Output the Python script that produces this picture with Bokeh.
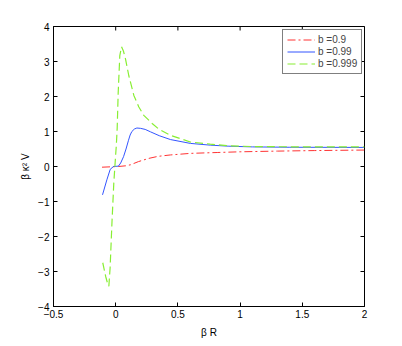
import math
from bokeh.plotting import figure
from bokeh.models import FixedTicker, Legend, LegendItem, Range1d
from bokeh.embed import file_html
from bokeh.resources import INLINE

# b = 0.9
x_red = [-0.11, 0.022, 0.08, 0.12, 0.183, 0.264, 0.34, 0.44, 0.60, 0.816, 1.0, 1.3, 1.6, 2.0]
y_red = [-0.02, 0.0, 0.02, 0.05, 0.14, 0.23, 0.29, 0.33, 0.375, 0.40, 0.42, 0.44, 0.455, 0.47]

# b = 0.99
x_blue = [-0.106, -0.071, -0.044, -0.018, 0.022, 0.04, 0.063, 0.083, 0.103, 0.116, 0.13, 0.15,
          0.17, 0.2, 0.237, 0.28, 0.35, 0.44, 0.60, 0.76, 0.91, 1.1, 1.4, 2.0]
y_blue = [-0.81, -0.38, -0.08, 0.0, 0.01, 0.1, 0.28, 0.5, 0.75, 0.9, 1.0, 1.07,
          1.10, 1.09, 1.06, 0.99, 0.88, 0.77, 0.66, 0.61, 0.58, 0.56, 0.55, 0.545]

# b = 0.999
x_green = [-0.104, -0.08, -0.062, -0.055, -0.045, -0.03, -0.015, 0.0, 0.005, 0.012, 0.02,
           0.033, 0.047, 0.062, 0.079, 0.105, 0.146, 0.186, 0.226, 0.293, 0.346, 0.44,
           0.60, 0.76, 0.91, 1.1, 1.3, 1.6, 2.0]
y_green = [-2.75, -3.15, -3.38, -3.42, -2.9, -1.6, -0.45, 0.35, 0.6, 1.1, 2.1,
           3.17, 3.42, 3.3, 3.07, 2.6, 2.03, 1.70, 1.46, 1.23, 1.07, 0.89,
           0.70, 0.64, 0.59, 0.57, 0.565, 0.56, 0.56]

labels = ["b =0.9", "b =0.99", "b =0.999"]
x_ticks = [-0.5, 0, 0.5, 1, 1.5, 2]
y_ticks = [-4, -3, -2, -1, 0, 1, 2, 3, 4]

FONT = "Liberation Sans"

p = figure(width=386, height=340, output_backend="svg", toolbar_location=None,
           x_range=Range1d(x_ticks[0], x_ticks[-1]), y_range=Range1d(y_ticks[0], y_ticks[-1]),
           min_border_left=53, min_border_right=22, min_border_top=26, min_border_bottom=33)
p.grid.visible = False
p.outline_line_color = "black"
p.outline_line_alpha = 1
p.background_fill_color = "white"
p.border_fill_color = "white"

r1 = p.line(x_red, y_red, line_color="#ff3333", line_width=1, line_dash="8 3 2 3")
r2 = p.line(x_blue, y_blue, line_color="#3355ff", line_width=1)
r3 = p.line(x_green, y_green, line_color="#88ee33", line_width=1.2, line_dash="8 4")

# inward tick marks on the top and right edges (box on)
p.scatter(x_ticks, [y_ticks[-1]] * len(x_ticks), marker="dash", angle=math.pi / 2,
          size=8, line_color="black", line_width=1)
p.scatter([x_ticks[-1]] * len(y_ticks), y_ticks, marker="dash",
          size=8, line_color="black", line_width=1)

for ax in (p.xaxis[0], p.yaxis[0]):
    ax.major_tick_in = 4
    ax.major_tick_out = 0
    ax.minor_tick_line_color = None
    ax.axis_line_color = "black"
    ax.major_tick_line_color = "black"
    ax.major_label_text_font = FONT
    ax.major_label_text_font_size = "10px"
    ax.major_label_text_color = "black"
    ax.axis_label_text_font = FONT
    ax.axis_label_text_font_size = "10px"
    ax.axis_label_text_font_style = "normal"
    ax.axis_label_text_color = "black"

p.xaxis[0].ticker = FixedTicker(ticks=x_ticks)
p.yaxis[0].ticker = FixedTicker(ticks=y_ticks)
p.xaxis[0].axis_label = "β R"
p.yaxis[0].axis_label = "β κ² V"
p.xaxis[0].axis_label_standoff = 6
p.yaxis[0].axis_label_standoff = 4
p.xaxis[0].major_label_standoff = 3
p.yaxis[0].major_label_standoff = 4

legend = Legend(items=[LegendItem(label=labels[0], renderers=[r1]),
                       LegendItem(label=labels[1], renderers=[r2]),
                       LegendItem(label=labels[2], renderers=[r3])],
                location=(229, 232))
legend.border_line_color = "black"
legend.border_line_width = 1
legend.background_fill_alpha = 1
legend.label_text_font = FONT
legend.label_text_font_size = "10px"
legend.glyph_width = 28
legend.glyph_height = 11
legend.label_height = 11
legend.label_standoff = 3
legend.spacing = 1
legend.padding = 4
legend.margin = 0
p.add_layout(legend, "center")

open("out.html", "w").write(file_html(p, INLINE))
